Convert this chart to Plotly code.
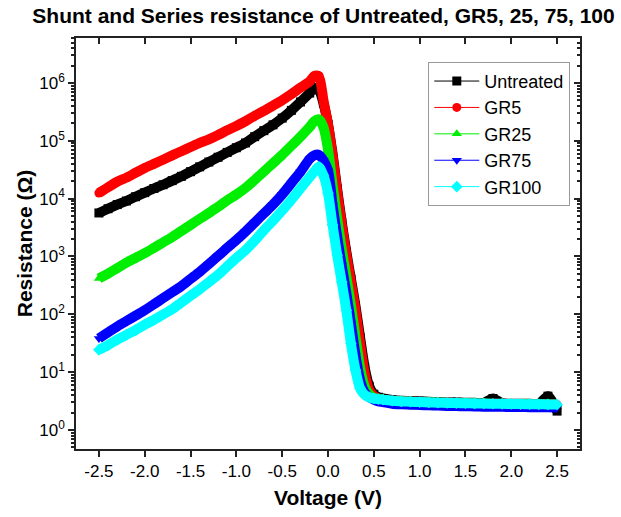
import plotly.graph_objects as go

title = "Shunt and Series resistance of Untreated, GR5, 25, 75, 100"
x_title = "Voltage (V)"
y_title = "Resistance (Ω)"

voltage = [-2.5, -2.4, -2.3, -2.2, -2.1, -2.0, -1.9, -1.8, -1.7, -1.6, -1.5, -1.4,
           -1.3, -1.2, -1.1, -1.0, -0.9, -0.8, -0.7, -0.6, -0.5, -0.4, -0.3, -0.2,
           -0.15, -0.1, -0.05, 0.0, 0.05, 0.1, 0.15, 0.2, 0.25, 0.3, 0.35, 0.4,
           0.45, 0.5, 0.55, 0.6,
           0.7, 0.8, 0.9, 1.0, 1.1, 1.2, 1.3, 1.4, 1.5, 1.6, 1.7, 1.8, 1.9, 2.0,
           2.1, 2.2, 2.3, 2.4, 2.5]

untreated = [5.66e3, 6.7e3, 7.9e3, 9.1e3, 1.08e4, 1.27e4, 1.5e4, 1.74e4, 2.05e4, 2.43e4,
             2.93e4, 3.55e4, 4.3e4, 5.2e4, 6.3e4, 7.6e4, 9.2e4, 1.18e5, 1.5e5, 1.89e5,
             2.47e5, 3.36e5, 4.7e5, 6.7e5,
             8.15e5, 7.6e5, 4.5e5, 1.93e5, 5.9e4, 1.46e4, 3.9e3, 1.2e3, 409, 139,
             39.8, 12.1, 5.7, 4.15, 3.68, 3.5,
             3.3, 3.2, 3.17, 3.13, 3.08, 3.04, 3.0, 3.0, 2.95, 2.95, 2.95, 3.5, 2.9, 2.85,
             2.85, 2.85, 2.8, 3.85, 2.12]

gr5 = [1.25e4, 1.58e4, 1.96e4, 2.31e4, 2.8e4, 3.39e4, 4.0e4, 4.72e4, 5.6e4, 6.6e4,
       7.8e4, 9.2e4, 1.06e5, 1.26e5, 1.52e5, 1.81e5, 2.18e5, 2.71e5, 3.28e5, 4.06e5,
       5.04e5, 6.4e5, 8.3e5, 1.06e6,
       1.32e6, 1.32e6, 5.04e5, 1.93e5, 5.46e4, 1.31e4, 3.5e3, 1.06e3, 361, 117,
       31.3, 9.57, 4.9, 3.87, 3.5, 3.35,
       3.2, 3.15, 3.1, 3.05, 3.0, 2.98, 2.95, 2.92, 2.9, 2.88, 2.86, 2.85, 2.83, 2.82,
       2.8, 2.8, 2.78, 2.77, 2.75]

gr25 = [418, 507, 629, 782, 944, 1.14e3, 1.41e3, 1.75e3, 2.18e3, 2.76e3,
        3.51e3, 4.46e3, 5.66e3, 7.19e3, 9.34e3, 1.18e4, 1.54e4, 2.11e4, 2.93e4, 4.1e4,
        5.72e4, 8.2e4, 1.18e5, 1.73e5,
        2.18e5, 2.35e5, 1.73e5, 7.1e4, 1.74e4, 4.56e3, 1.35e3, 448, 145, 40.7,
        12.1, 5.7, 4.15, 3.6, 3.45, 3.3,
        3.15, 3.1, 3.07, 3.03, 3.0, 2.97, 2.94, 2.9, 2.88, 2.86, 2.84, 2.82, 2.8, 2.79,
        2.78, 2.77, 2.76, 2.75, 2.74]

gr75 = [38.3, 48.7, 61.8, 76.5, 94.9, 117.6, 149, 190, 242, 307,
        409, 544, 740, 1.02e3, 1.41e3, 1.93e3, 2.7e3, 3.86e3, 5.53e3, 7.91e3,
        1.18e4, 1.86e4, 2.93e4, 4.87e4,
        5.6e4, 5.73e4, 4.6e4, 3.07e4, 7.7e3, 2.18e3, 691, 231, 69.6, 19.6,
        7.3, 4.45, 3.68, 3.35, 3.12, 3.04,
        2.85, 2.78, 2.74, 2.7, 2.67, 2.64, 2.61, 2.59, 2.57, 2.55, 2.53, 2.52, 2.51, 2.5,
        2.49, 2.48, 2.47, 2.46, 2.45]

gr100 = [24.3, 29.4, 36.4, 44.2, 53.4, 66.2, 80.1, 99.3, 123, 160,
         209, 271, 361, 481, 675, 944, 1.29e3, 1.88e3, 2.83e3, 4.16e3,
         6.23e3, 9.54e3, 1.5e4, 2.36e4,
         2.93e4, 3.55e4, 2.54e4, 1.25e4, 3.5e3, 1.06e3, 361, 117, 31.3, 10.8,
         5.25, 4.05, 3.68, 3.5, 3.42, 3.35,
         3.2, 3.12, 3.08, 3.04, 3.0, 2.97, 2.94, 2.92, 2.9, 2.88, 2.86, 2.84, 2.83, 2.82,
         2.8, 2.79, 2.78, 2.77, 2.76]

series_names = ["Untreated", "GR5", "GR25", "GR75", "GR100"]
series_values = [untreated, gr5, gr25, gr75, gr100]
series_colors = ["#000000", "#FF0000", "#00EE00", "#0000FF", "#00FFFF"]
series_symbols = ["square", "circle", "triangle-up", "triangle-down", "diamond"]

x_tickvals = [-2.5, -2.0, -1.5, -1.0, -0.5, 0.0, 0.5, 1.0, 1.5, 2.0, 2.5]
x_ticktext = ["-2.5", "-2.0", "-1.5", "-1.0", "-0.5", "0.0", "0.5", "1.0", "1.5", "2.0", "2.5"]
y_tickvals = [1, 10, 100, 1e3, 1e4, 1e5, 1e6]
y_ticktext = ["10<sup>0</sup>", "10<sup>1</sup>", "10<sup>2</sup>", "10<sup>3</sup>",
              "10<sup>4</sup>", "10<sup>5</sup>", "10<sup>6</sup>"]

minor_vals = [m * 10 ** e for e in range(-1, 7) for m in range(2, 10)]

fig = go.Figure()
for name, vals, col, sym in zip(series_names, series_values, series_colors, series_symbols):
    fig.add_trace(go.Scatter(x=voltage, y=vals, mode="lines", showlegend=False,
                             line=dict(color=col, width=10, shape="spline", smoothing=0.7),
                             hoverinfo="skip"))
    fig.add_trace(go.Scatter(x=voltage, y=vals, mode="lines+markers", name=name,
                             line=dict(color=col, width=1, shape="spline", smoothing=0.7),
                             marker=dict(symbol=sym, size=9, color=col)))

fig.add_trace(go.Scatter(x=[None], y=[None], xaxis="x2", yaxis="y2", showlegend=False))

xr = [-2.75, 2.75]
yr = [-0.329, 6.778]
font_family = "Liberation Sans, Arial, sans-serif"
axis_col = "#222"

fig.update_layout(
    width=621, height=517,
    margin=dict(l=76, r=41, t=38, b=68),
    paper_bgcolor="white", plot_bgcolor="white",
    font=dict(family=font_family, color="black"),
    title=dict(text="<b>" + title + "</b>", x=0.521, xanchor="center",
               y=0.969, yanchor="middle", font=dict(size=21, color="black")),
    xaxis=dict(range=xr, tickvals=x_tickvals, ticktext=x_ticktext,
               showline=True, linecolor=axis_col, linewidth=1.5, mirror=False,
               ticks="outside", ticklen=6, tickwidth=1.5, tickcolor=axis_col,
               showgrid=False, zeroline=False, tickfont=dict(size=17),
               title=dict(text="<b>" + x_title + "</b>", font=dict(size=21), standoff=10)),
    yaxis=dict(type="log", range=yr, tickvals=y_tickvals, ticktext=y_ticktext,
               showline=True, linecolor=axis_col, linewidth=1.5, mirror=False,
               ticks="outside", ticklen=6, tickwidth=1.5, tickcolor=axis_col,
               minor=dict(tickvals=minor_vals, ticks="outside", ticklen=3, tickcolor=axis_col),
               showgrid=False, zeroline=False, tickfont=dict(size=17),
               title=dict(text="<b>" + y_title + "</b>", font=dict(size=21), standoff=1)),
    xaxis2=dict(overlaying="x", side="top", anchor="y", range=xr, tickvals=x_tickvals,
                showticklabels=False, showline=True, linecolor=axis_col, linewidth=1.5,
                ticks="inside", ticklen=6, tickwidth=1.5, tickcolor=axis_col,
                showgrid=False, zeroline=False),
    yaxis2=dict(overlaying="y", side="right", anchor="x", type="log", range=yr,
                tickvals=y_tickvals, showticklabels=False, showline=True,
                linecolor=axis_col, linewidth=1.5,
                ticks="inside", ticklen=6, tickwidth=1.5, tickcolor=axis_col,
                minor=dict(tickvals=minor_vals, ticks="inside", ticklen=3, tickcolor=axis_col),
                showgrid=False, zeroline=False),
    legend=dict(x=0.699, y=0.942, xanchor="left", yanchor="top",
                bgcolor="white", bordercolor="#999", borderwidth=1, itemwidth=45,
                font=dict(size=18, color="black"), tracegroupgap=0),
)

fig.write_html("out.html")
